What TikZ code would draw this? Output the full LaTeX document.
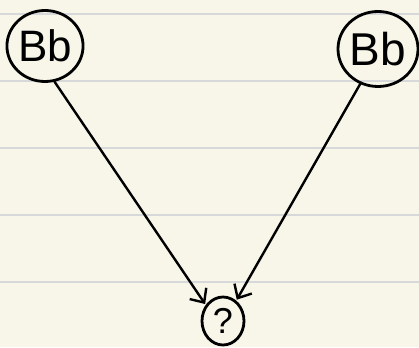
\documentclass[tikz,border=0pt]{standalone}
\usepackage{fontspec}
\setmainfont{Liberation Sans}
\usetikzlibrary{shapes.geometric,arrows.meta}
\definecolor{paper}{HTML}{F8F6E8}
\definecolor{rule}{HTML}{D6D8DA}
\tikzset{
  bubble/.style={draw=black, line width=2.8pt, ellipse, inner sep=0pt},
  link/.style={draw=black, line width=2.4pt, line cap=round, -{Straight Barb[length=11pt,width=20pt,line width=2.4pt]}, shorten >=1pt},
  ruleline/.style={draw=rule, line width=1.8pt}
}
\begin{document}
\begin{tikzpicture}[x=1pt,y=-1pt]
\fill[paper] (0,0) rectangle (419,347);
\useasboundingbox (0,0) rectangle (419,347);
\foreach \yy in {14,81,148,215,282} \draw[ruleline] (0,\yy) -- (419,\yy);
\node[bubble, minimum width=74pt, minimum height=71pt, font=\fontsize{44}{44}\selectfont] (a) at (45,46) {Bb};
\node[bubble, minimum width=80pt, minimum height=75pt, font=\fontsize{46}{46}\selectfont] (b) at (378,49) {Bb};
\node[bubble, minimum width=42pt, minimum height=48pt, font=\fontsize{36}{36}\selectfont] (c) at (223,321) {?};
\draw[link] (a.285) -- (c.137);
\draw[link] (b.243) -- (c.57);
\end{tikzpicture}
\end{document}
